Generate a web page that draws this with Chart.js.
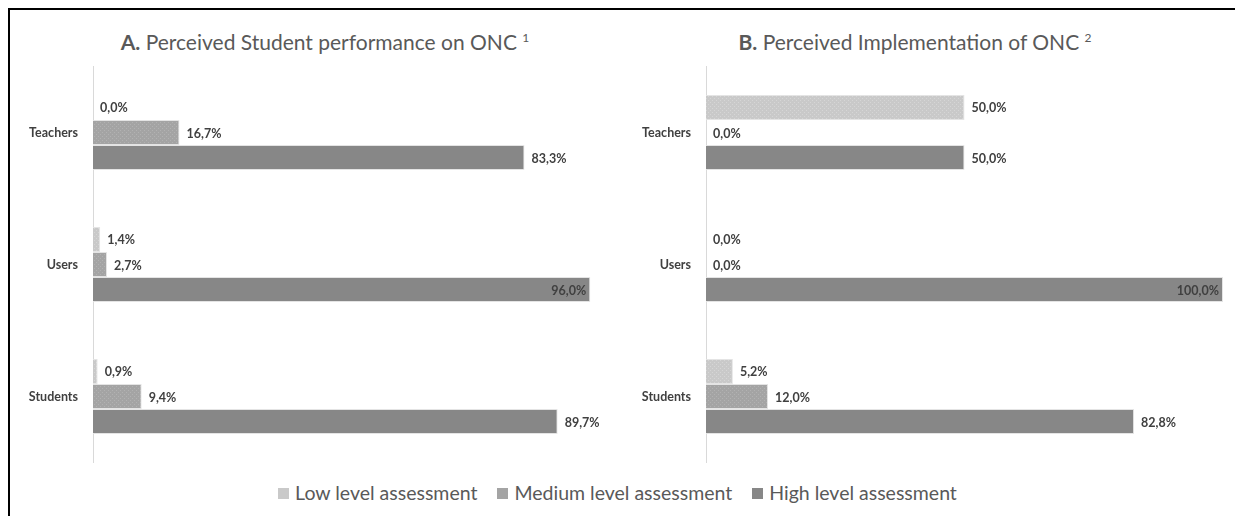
<!DOCTYPE html>
<html>
<head>
<meta charset="utf-8">
<script src="https://cdn.jsdelivr.net/npm/chart.js@4"></script>
<style>
  html, body { margin: 0; padding: 0; background: #fff; }
  body { width: 1235px; height: 516px; position: relative; overflow: hidden; font-family: Lato, "Open Sans", sans-serif; }
  .frame { position: absolute; left: 8px; top: 8px; right: -10px; bottom: -10px; border-left: 2px solid #000; border-top: 2px solid #000; }
  .panel { position: absolute; }
  .title { position: absolute; top: 29px; font-size: 21px; color: #595959; white-space: nowrap; transform: translateX(-50%); }
  .title b { font-weight: 700; }
  .title sup { font-size: 12px; vertical-align: 8px; }
  .legend { position: absolute; top: 481px; left: 0; width: 1235px; text-align: center; font-size: 19.5px; color: #595959; white-space: nowrap; }
  .legend span.item { margin: 0 10px; }
  .legend i { display: inline-block; width: 11px; height: 11px; margin-right: 6px; vertical-align: 1px; }
</style>
</head>
<body>
<div class="frame"></div>
<div class="title" style="left:325px"><b>A.</b> Perceived Student performance on ONC <sup>1</sup></div>
<div class="title" style="left:915px"><b>B.</b> Perceived Implementation of ONC <sup>2</sup></div>
<div class="panel" style="left:10px; top:52px; width:610px; height:425px"><canvas id="chartA"></canvas></div>
<div class="panel" style="left:620px; top:52px; width:615px; height:425px"><canvas id="chartB"></canvas></div>
<div class="legend" id="legend"></div>
<script>
const categories = ['Teachers', 'Users', 'Students'];
const seriesNames = ['Low level assessment', 'Medium level assessment', 'High level assessment'];

// A. Perceived student performance (%)
const perfLow = [0.0, 1.4, 0.9];
const perfMedium = [16.7, 2.7, 9.4];
const perfHigh = [83.3, 96.0, 89.7];

// B. Perceived implementation (%)
const implLow = [50.0, 0.0, 5.2];
const implMedium = [0.0, 0.0, 12.0];
const implHigh = [50.0, 100.0, 82.8];

const baseColors = ['#c9c9c9', '#a4a4a4', '#878787'];

// small dotted textures like the original fills
function makePattern(base, dot) {
    const c = document.createElement('canvas');
    c.width = 4; c.height = 4;
    const g = c.getContext('2d');
    g.fillStyle = base;
    g.fillRect(0, 0, 4, 4);
    g.fillStyle = dot;
    g.fillRect(0, 0, 1, 1);
    g.fillRect(2, 2, 1, 1);
    return g.createPattern(c, 'repeat');
}
const fills = [
    makePattern('#c9c9c9', '#d6d6d6'),
    makePattern('#a4a4a4', '#b2b2b2'),
    '#878787'
];

// draw the value next to each bar, inside it when there's no room
const valueLabels = {
    id: 'valueLabels',
    afterDatasetsDraw(chart) {
        const ctx = chart.ctx;
        ctx.save();
        ctx.font = 'bold 12.5px Lato, "Open Sans", sans-serif';
        ctx.fillStyle = '#404040';
        ctx.textBaseline = 'middle';
        chart.data.datasets.forEach((ds, i) => {
            const meta = chart.getDatasetMeta(i);
            meta.data.forEach((bar, j) => {
                const text = ds.data[j].toFixed(1).replace('.', ',') + '%';
                const w = ctx.measureText(text).width;
                if (bar.x + 8 + w > chart.width - 2) {
                    ctx.textAlign = 'right';
                    ctx.fillText(text, bar.x - 4, bar.y + 1);
                } else {
                    ctx.textAlign = 'left';
                    ctx.fillText(text, bar.x + 7, bar.y + 1);
                }
            });
        });
        ctx.restore();
    }
};

function makeChart(id, low, medium, high, axisWidth, padRight) {
    const values = [low, medium, high];
    return new Chart(document.getElementById(id), {
        type: 'bar',
        data: {
            labels: categories,
            datasets: values.map((vals, i) => ({
                label: seriesNames[i],
                data: vals,
                backgroundColor: fills[i],
                borderColor: '#e4e4e4',
                borderWidth: 1,
                categoryPercentage: 0.57,
                barPercentage: 1.0
            }))
        },
        options: {
            indexAxis: 'y',
            responsive: true,
            maintainAspectRatio: false,
            animation: false,
            layout: { padding: { top: 7, bottom: 8, right: padRight, left: 0 } },
            scales: {
                x: { display: false, min: 0, max: 100 },
                y: {
                    grid: { display: false },
                    border: { display: true, color: '#d9d9d9', width: 1 },
                    ticks: {
                        color: '#404040',
                        padding: 7,
                        font: { family: 'Lato, "Open Sans", sans-serif', size: 12.5, weight: 'bold' }
                    },
                    afterFit(scale) { scale.width = axisWidth; }
                }
            },
            plugins: {
                legend: { display: false },
                tooltip: { enabled: false }
            }
        },
        plugins: [valueLabels]
    });
}

makeChart('chartA', perfLow, perfMedium, perfHigh, 83, 9);
makeChart('chartB', implLow, implMedium, implHigh, 86, 12);

// shared legend underneath both panels
const legend = document.getElementById('legend');
seriesNames.forEach((name, i) => {
    const item = document.createElement('span');
    item.className = 'item';
    const box = document.createElement('i');
    box.style.background = baseColors[i];
    item.appendChild(box);
    item.appendChild(document.createTextNode(name));
    legend.appendChild(item);
});
</script>
</body>
</html>
